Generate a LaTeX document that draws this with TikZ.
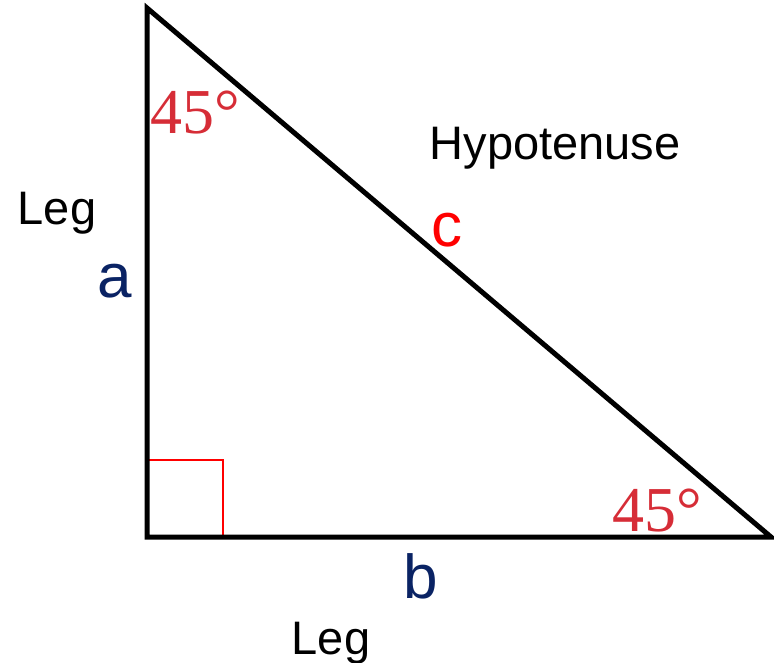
\documentclass[tikz,border=0pt]{standalone}
\usepackage{fontspec}
\setmainfont{Liberation Sans}
\newfontfamily\angfont{Liberation Serif}
\definecolor{angred}{RGB}{214,45,55}
\definecolor{navy}{RGB}{10,35,100}
\begin{document}
\begin{tikzpicture}[x=1pt,y=-1pt,
  side/.style={line width=5pt,line join=miter},
  rsq/.style={draw=red,line width=2.2pt},
  ang/.style={text=angred,font=\angfont\fontsize{64}{64}\selectfont,anchor=base,inner sep=0pt},
  lbl/.style={font=\fontsize{47}{47}\selectfont,anchor=base,inner sep=0pt},
  var/.style={font=\fontsize{62}{62}\selectfont,anchor=base,inner sep=0pt}]
\useasboundingbox (0,0) rectangle (774,663);
\coordinate (A) at (147,8);
\coordinate (C) at (147,537);
\coordinate (B) at (771,537);
\draw[rsq] (147,460) -| (223,537);
\draw[side] (A) -- (C) -- (B) -- cycle;
\node[ang] (a1) at (195,134) {45°};
\node[ang] (a2) at (657,531) {45°};
\node[lbl] (hyp) at (555,160) {Hypotenuse};
\node[lbl] (leg1) at (57,225) {Leg};
\node[lbl] (leg2) at (331,654) {Leg};
\node[var,text=navy] (va) at (115,298) {a};
\node[var,text=red] (vc) at (447,247) {c};
\node[var,text=navy] (vb) at (421,598) {b};
\end{tikzpicture}
\end{document}
